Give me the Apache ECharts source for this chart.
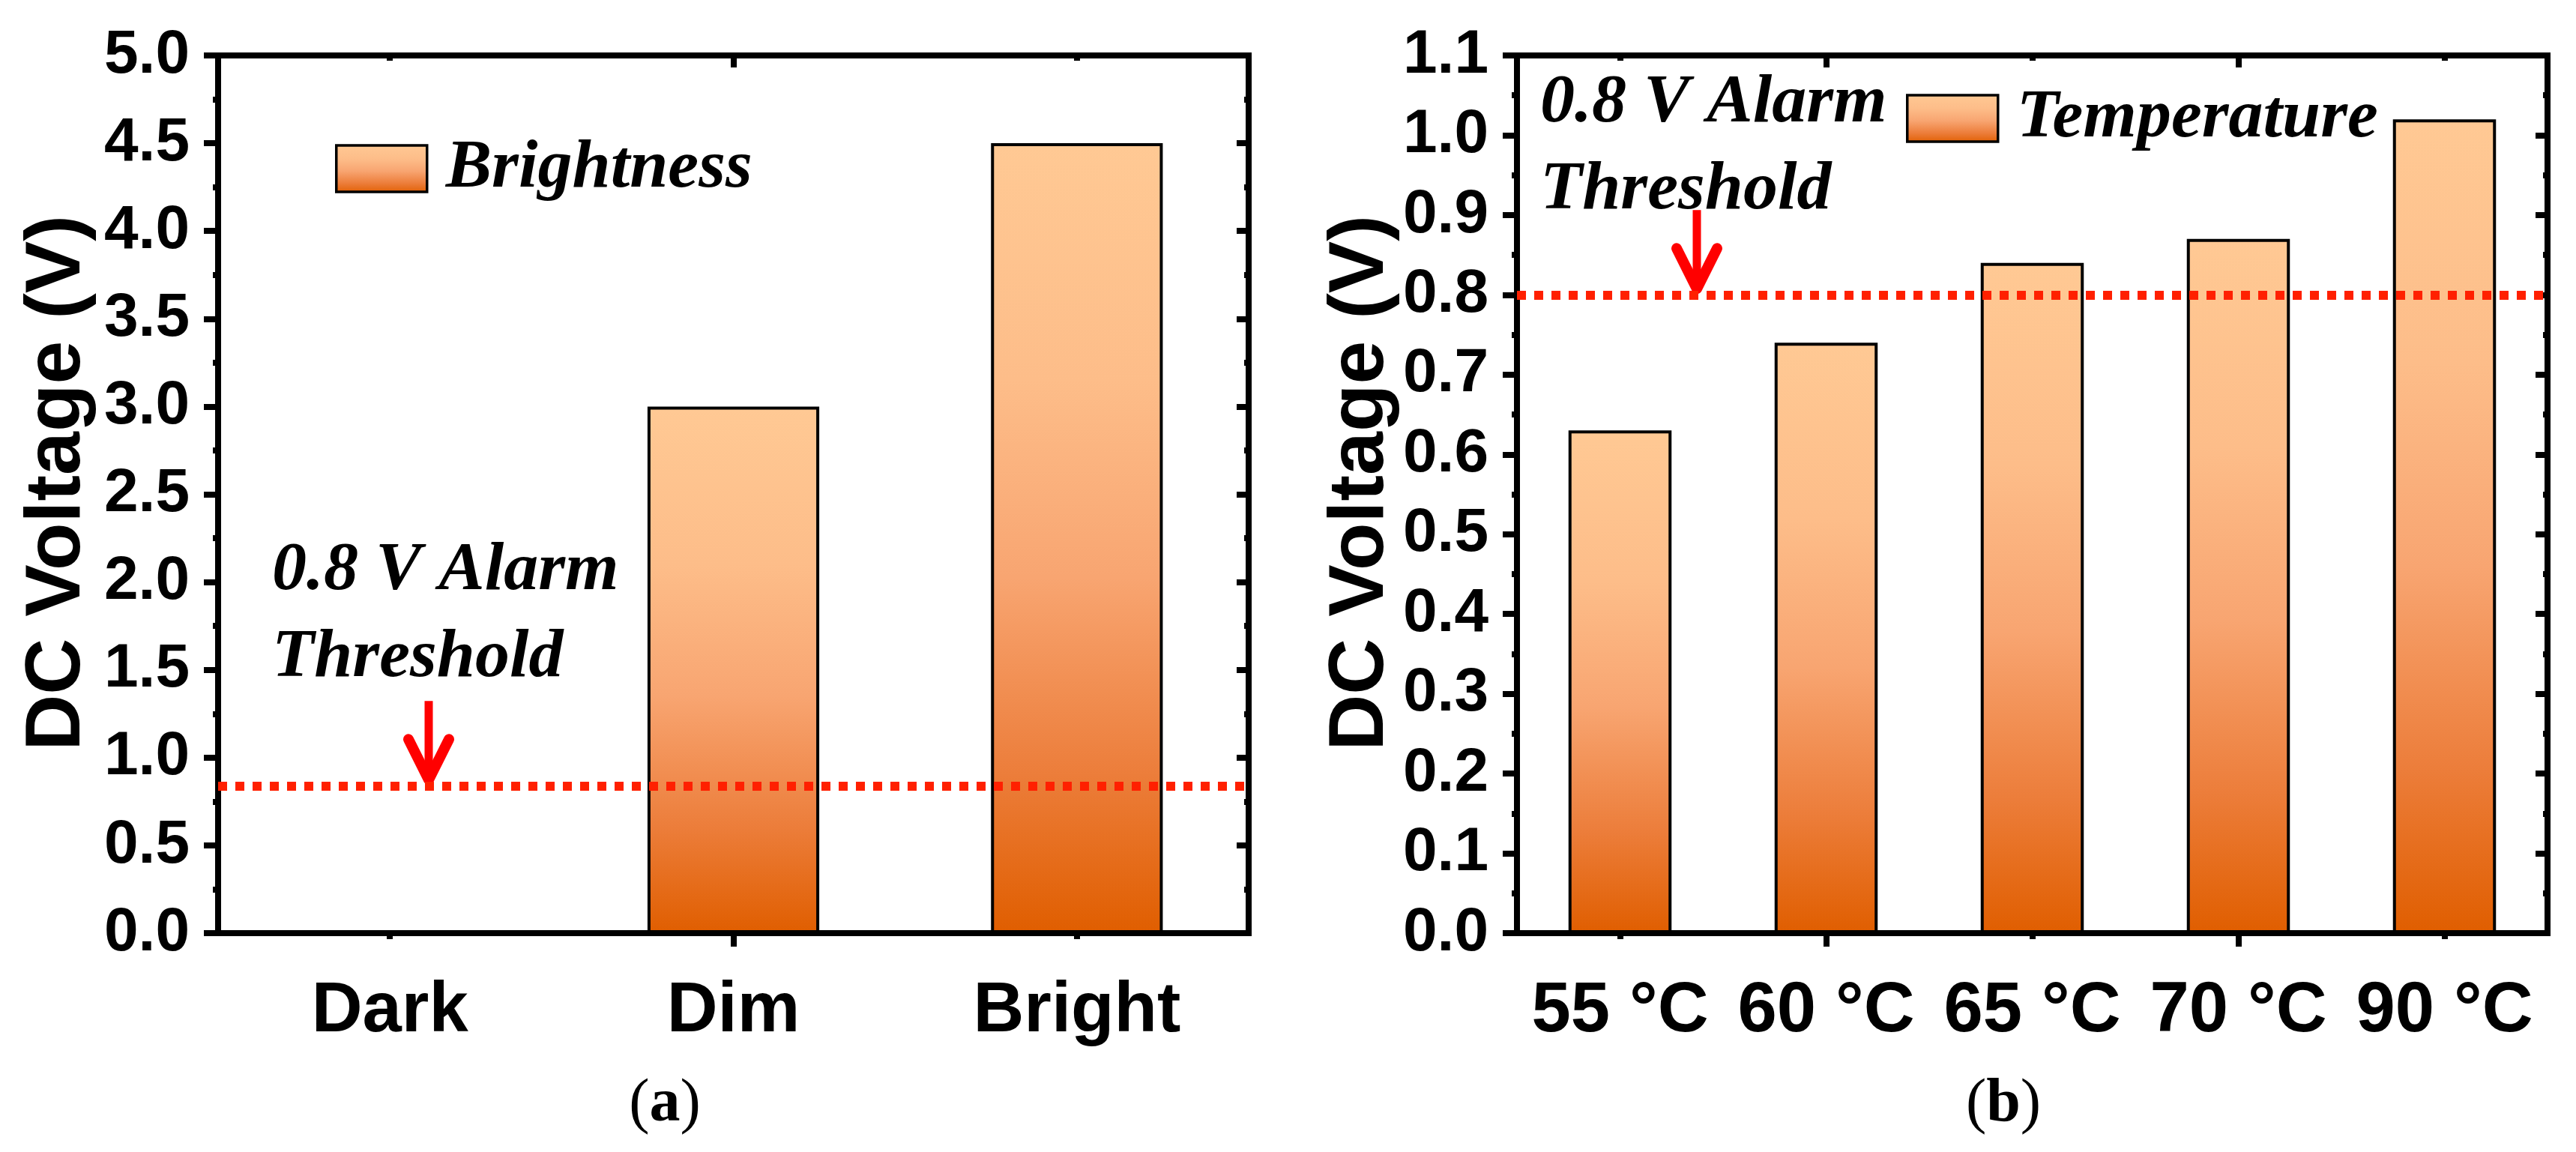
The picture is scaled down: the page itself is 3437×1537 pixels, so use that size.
<!DOCTYPE html>
<html>
<head>
<meta charset="utf-8">
<title>DC Voltage vs Brightness / Temperature</title>
<script src="https://cdn.jsdelivr.net/npm/echarts@6/dist/echarts.min.js"></script>
<style>
  html, body { margin: 0; padding: 0; background: #fff; }
  #chart { width: 3437px; height: 1537px; }
</style>
</head>
<body>
<div id="chart"></div>
<script>
// panel (a): brightness
const brightCategories = ['Dark', 'Dim', 'Bright'];
const brightVoltage = [0, 3.0, 4.5];
const brightThreshold = 0.84;
const brightAxis = [0, 5, 0.5]; // min, max, step

// panel (b): temperature
const tempCategories = ['55 °C', '60 °C', '65 °C', '70 °C', '90 °C'];
const tempVoltage = [0.63, 0.74, 0.84, 0.87, 1.02];
const tempThreshold = 0.8;
const tempAxis = [0, 1.1, 0.1];

const seriesNames = ['Brightness', 'Temperature'];
const noteLines = ['0.8 V Alarm', 'Threshold'];
const panelTags = ['a', 'b'];
const yTitle = 'DC Voltage (V)';

const SANS = '"Liberation Sans", Arial, sans-serif';
const SERIF = '"Liberation Serif", "Times New Roman", serif';
const BLACK = '#000';

const barFill = new echarts.graphic.LinearGradient(0, 0, 0, 1, [
  { offset: 0, color: '#FFC994' },
  { offset: 0.3, color: '#FDBD89' },
  { offset: 0.55, color: '#F8A571' },
  { offset: 0.8, color: '#EC7D3A' },
  { offset: 1, color: '#E05E00' },
]);

const frameLine = { show: true, lineStyle: { color: BLACK, width: 8, cap: 'square' } };
const tickStyle = { color: BLACK, width: 8 };
const odd = i => i % 2 === 1;
const even = i => i % 2 === 0;

// four category axes per grid: bottom/top, long/short ticks
function xAxesFor(gi, cats, labelSize) {
  const base = {
    type: 'category', gridIndex: gi, data: cats, boundaryGap: true,
    axisLine: { show: false }, axisLabel: { show: false }, splitLine: { show: false },
  };
  return [
    {
      ...base, position: 'bottom', axisLine: frameLine,
      axisTick: { show: true, alignWithLabel: true, interval: odd, length: 18, lineStyle: tickStyle },
      axisLabel: {
        show: true, interval: 0, margin: 58, color: BLACK,
        fontFamily: SANS, fontWeight: 'bold', fontSize: labelSize,
      },
    },
    {
      ...base, position: 'bottom',
      axisTick: { show: true, alignWithLabel: true, interval: even, length: 8, lineStyle: tickStyle },
    },
    {
      ...base, position: 'top', axisLine: frameLine,
      axisTick: { show: true, inside: true, alignWithLabel: true, interval: odd, length: 16, lineStyle: tickStyle },
    },
    {
      ...base, position: 'top',
      axisTick: { show: true, inside: true, alignWithLabel: true, interval: even, length: 7, lineStyle: tickStyle },
    },
  ];
}

function yAxesFor(gi, range, nameGap) {
  const base = {
    type: 'value', gridIndex: gi, min: range[0], max: range[1], interval: range[2],
    splitLine: { show: false }, axisLine: frameLine,
  };
  return [
    {
      ...base, position: 'left',
      axisTick: { show: true, length: 19, lineStyle: tickStyle },
      minorTick: { show: true, splitNumber: 2, length: 7, lineStyle: tickStyle },
      axisLabel: {
        margin: 38, color: BLACK, fontFamily: SANS, fontWeight: 'bold', fontSize: 82,
        formatter: v => v.toFixed(1),
      },
      name: yTitle, nameLocation: 'middle', nameRotate: 90, nameGap: nameGap,
      nameTextStyle: {
        color: BLACK, fontFamily: SANS, fontWeight: 'bold', fontSize: 104, padding: [0, 0, 0, 30],
      },
    },
    {
      ...base, position: 'right',
      axisTick: { show: true, inside: true, length: 16, lineStyle: tickStyle },
      minorTick: { show: true, splitNumber: 2, length: 6, lineStyle: tickStyle },
      axisLabel: { show: false },
    },
  ];
}

function barSeries(name, data, xi, yi, threshold) {
  return {
    name: name, type: 'bar', data: data, xAxisIndex: xi, yAxisIndex: yi,
    barWidth: '50%',
    itemStyle: { color: barFill, borderColor: BLACK, borderWidth: 4 },
    markLine: {
      silent: true, symbol: ['none', 'none'], label: { show: false },
      lineStyle: { color: '#FF2000', width: 12, type: [12, 11], cap: 'butt' },
      data: [{ yAxis: threshold }],
    },
  };
}

function legendFor(name, left, top) {
  return {
    data: [name], left: left, top: top, padding: 0, icon: 'rect',
    itemWidth: 121, itemHeight: 62,
    itemStyle: { borderColor: BLACK, borderWidth: 3.5 },
    textStyle: {
      color: BLACK, fontFamily: SERIF, fontStyle: 'italic', fontWeight: 'bold', fontSize: 92,
      padding: [0, 0, 0, 20],
    },
  };
}

const chart = echarts.init(document.getElementById('chart'));

chart.setOption({
  animation: false,
  backgroundColor: '#fff',
  grid: [
    { left: 291, top: 74, width: 1375, height: 1171 },
    { left: 2024, top: 74, width: 1375, height: 1171 },
  ],
  xAxis: [...xAxesFor(0, brightCategories, 94), ...xAxesFor(1, tempCategories, 94)],
  yAxis: [...yAxesFor(0, brightAxis, 162), ...yAxesFor(1, tempAxis, 142)],
  legend: [legendFor(seriesNames[0], 447, 179), legendFor(seriesNames[1], 2543, 112)],
  series: [
    barSeries(seriesNames[0], brightVoltage, 0, 0, brightThreshold),
    barSeries(seriesNames[1], tempVoltage, 4, 2, tempThreshold),
  ],
});

// annotations: note text, red arrow pointing at the threshold line, panel tags
const NOTE_SIZE = 92;

function noteText(x, firstBaseline) {
  return noteLines.map((t, i) => ({
    type: 'text', silent: true,
    style: {
      text: t, x: x, y: firstBaseline + i * 116 - 0.34 * NOTE_SIZE,
      align: 'left', verticalAlign: 'middle', fill: BLACK,
      font: 'italic bold ' + NOTE_SIZE + 'px ' + SERIF,
    },
  }));
}

function arrow(x, tipY) {
  return [
    {
      type: 'line', silent: true,
      shape: { x1: x, y1: tipY - 113, x2: x, y2: tipY - 15 },
      style: { stroke: '#FF0000', lineWidth: 11 },
    },
    {
      type: 'polyline', silent: true,
      shape: { points: [[x - 27, tipY - 62], [x, tipY - 8], [x + 27, tipY - 62]] },
      style: { stroke: '#FF0000', lineWidth: 14, lineCap: 'round', lineJoin: 'round', fill: null },
    },
  ];
}

function tag(letter, x) {
  return {
    type: 'text', silent: true,
    style: {
      text: '{p|(}{b|' + letter + '}{p|)}', x: x, y: 1474,
      align: 'center', verticalAlign: 'middle',
      rich: {
        p: { fontFamily: SERIF, fontSize: 82, color: BLACK },
        b: { fontFamily: SERIF, fontSize: 82, fontWeight: 'bold', color: BLACK },
      },
    },
  };
}

const tipA = chart.convertToPixel({ yAxisIndex: 0 }, brightThreshold);
const tipB = chart.convertToPixel({ yAxisIndex: 2 }, tempThreshold);

chart.setOption({
  graphic: [
    ...noteText(363, 794),
    ...noteText(2055, 170),
    ...arrow(572, tipA),
    ...arrow(2264, tipB),
    tag(panelTags[0], 887),
    tag(panelTags[1], 2673),
  ],
});
</script>
</body>
</html>
